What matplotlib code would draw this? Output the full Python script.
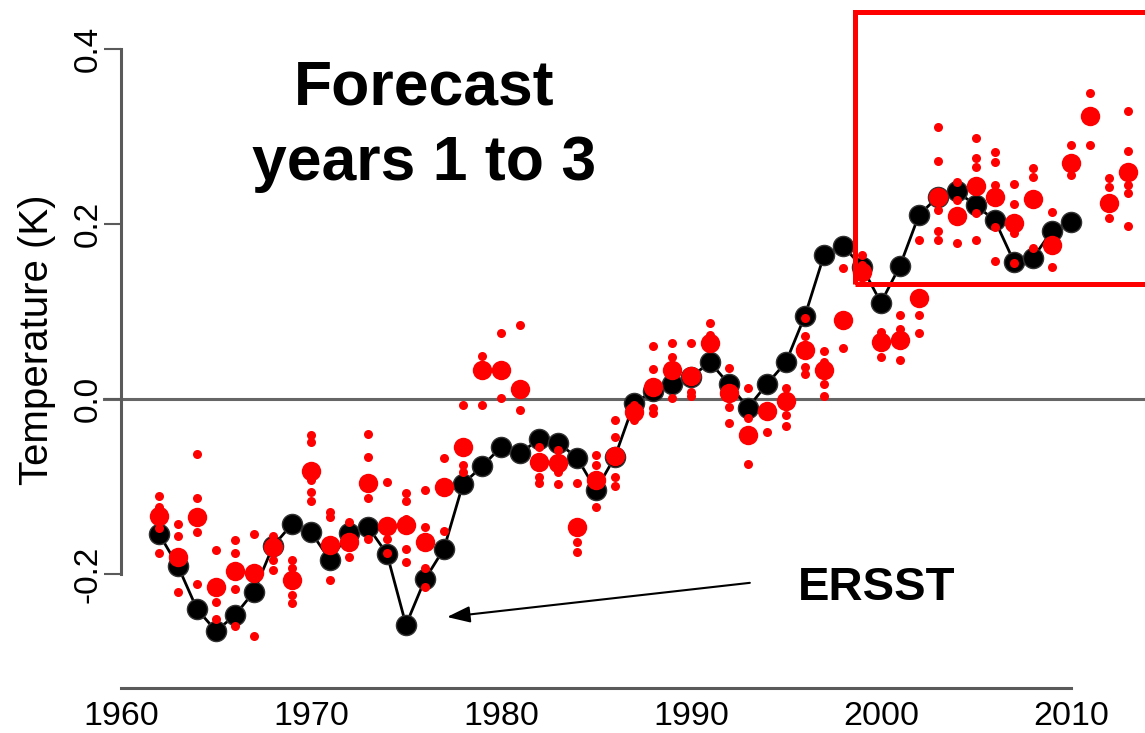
import matplotlib.pyplot as plt
from matplotlib.patches import Rectangle

plt.rcParams['font.family'] = ['Liberation Sans', 'DejaVu Sans']

# observed SST anomaly (ERSST), annual
obs_years = list(range(1962, 2011))
ersst = [-0.154, -0.191, -0.240, -0.265, -0.247, -0.220, -0.168, -0.143,
         -0.152, -0.184, -0.153, -0.146, -0.177, -0.258, -0.206, -0.171,
         -0.097, -0.077, -0.055, -0.062, -0.046, -0.050, -0.067, -0.104,
         -0.066, -0.005, 0.009, 0.017, 0.025, 0.042, 0.017, -0.010,
         0.017, 0.042, 0.095, 0.164, 0.175, 0.151, 0.110, 0.152,
         0.210, 0.231, 0.237, 0.221, 0.204, 0.157, 0.161, 0.192, 0.202]

# hindcast / forecast, mean of years 1 to 3
fc_years = list(range(1962, 2014))
fc_mean = [-0.134, -0.180, -0.135, -0.215, -0.196, -0.199, -0.169, -0.207,
           -0.082, -0.167, -0.163, -0.096, -0.145, -0.144, -0.163, -0.101,
           -0.055, 0.033, 0.033, 0.011, -0.072, -0.073, -0.146, -0.093,
           -0.065, -0.015, 0.014, 0.033, 0.026, 0.064, 0.007, -0.041,
           -0.014, -0.002, 0.056, 0.033, 0.090, 0.145, 0.065, 0.067,
           0.115, 0.231, 0.209, 0.243, 0.231, 0.201, 0.228, 0.176,
           0.270, 0.323, 0.224, 0.259]

# individual ensemble members
fc_members = [
    [-0.111, -0.123, -0.147, -0.176],
    [-0.143, -0.157, -0.220],
    [-0.063, -0.113, -0.152, -0.211],
    [-0.172, -0.232, -0.251],
    [-0.161, -0.176, -0.217, -0.259],
    [-0.154, -0.271],
    [-0.157, -0.184, -0.195],
    [-0.184, -0.193, -0.224, -0.233],
    [-0.041, -0.049, -0.093, -0.106, -0.117],
    [-0.129, -0.135, -0.207],
    [-0.141, -0.180],
    [-0.040, -0.066, -0.113, -0.160],
    [-0.095, -0.160, -0.176],
    [-0.107, -0.117, -0.137, -0.171, -0.186],
    [-0.104, -0.146, -0.193, -0.215],
    [-0.067, -0.151],
    [-0.007, -0.075, -0.083],
    [0.049, -0.007],
    [0.075, 0.001],
    [0.085, -0.013],
    [-0.055, -0.089, -0.096],
    [-0.058, -0.083, -0.097],
    [-0.096, -0.163, -0.175],
    [-0.064, -0.075, -0.123],
    [-0.024, -0.043, -0.089, -0.099],
    [-0.007, -0.024],
    [0.061, 0.034, -0.010, -0.016],
    [0.064, 0.048, 0.001],
    [0.064, 0.008, 0.003],
    [0.087, 0.073],
    [0.035, -0.009, -0.027],
    [0.013, -0.022, -0.074],
    [-0.038],
    [0.013, -0.018, -0.031],
    [0.093, 0.072, 0.037, 0.029],
    [0.055, 0.042, 0.017, 0.003],
    [0.150, 0.058],
    [0.164, 0.153],
    [0.077, 0.048],
    [0.096, 0.080, 0.045],
    [0.182, 0.096, 0.075],
    [0.311, 0.272, 0.216, 0.192, 0.182],
    [0.248, 0.227, 0.178],
    [0.298, 0.275, 0.265, 0.212, 0.182],
    [0.282, 0.271, 0.244, 0.196, 0.158],
    [0.245, 0.223, 0.190, 0.155],
    [0.264, 0.254, 0.172],
    [0.214, 0.151],
    [0.290, 0.256],
    [0.349, 0.290],
    [0.252, 0.242, 0.207],
    [0.329, 0.283, 0.244, 0.235, 0.198],
]

fig = plt.figure(figsize=(11.45, 7.33), dpi=100)
ax = fig.add_axes([0, 0, 1, 1])
ax.set_xlim(1953.63, 2013.9)
ax.set_ylim(-0.3815, 0.4557)

axis_grey = '#5a5a5a'
ax.axhline(0, xmin=0.0908, color='#666666', lw=2.2, zorder=1)

# observations
ax.plot(obs_years, ersst, '-', color='black', lw=2, zorder=2)
ax.plot(obs_years, ersst, 'o', color='black', mec='#333333', ms=14.5, zorder=3)

# forecast members and ensemble mean
mem_x = [yr for yr, m in zip(fc_years, fc_members) for _ in m]
mem_y = [v for m in fc_members for v in m]
ax.plot(mem_x, mem_y, 'o', color='red', mec='none', ms=6.5, zorder=4)
ax.plot(fc_years, fc_mean, 'o', color='red', mec='none', ms=14, zorder=5)

# highlight of the recent period
ax.add_patch(Rectangle((1998.63, 0.131), 20, 0.311, fill=False,
                       ec='red', lw=3.6, zorder=6))

for side in ['top', 'right']:
    ax.spines[side].set_visible(False)
ax.spines['left'].set_position(('data', 1960.0))
ax.spines['left'].set_bounds(-0.2, 0.4)
ax.spines['bottom'].set_position(('data', -0.330))
ax.spines['bottom'].set_bounds(1960, 2010)
for side in ['left', 'bottom']:
    ax.spines[side].set_color(axis_grey)
    ax.spines[side].set_linewidth(2.2)

ax.set_yticks([-0.2, 0.0, 0.2, 0.4])
ax.set_yticklabels(['-0.2', '0.0', '0.2', '0.4'])
ax.tick_params(axis='y', direction='out', length=12.2, width=1.5,
               color=axis_grey, labelsize=24, labelrotation=90, pad=0.5)
for lab in ax.get_yticklabels():
    lab.set_va('center')

ax.set_xticks([1960, 1970, 1980, 1990, 2000, 2010])
ax.tick_params(axis='x', length=0, labelsize=24.5, pad=9.2)

fig.text(37 / 1145, 1 - 340 / 733, 'Temperature (K)', rotation=90,
         ha='center', va='center', fontsize=29)

fig.text(424 / 1145, 1 - 126 / 733, 'Forecast\nyears 1 to 3',
         ha='center', va='center', fontsize=45, fontweight='bold',
         linespacing=1.35)

fig.text(877 / 1145, 1 - 583 / 733, 'ERSST', ha='center',
         va='center_baseline', fontsize=34, fontweight='bold')

ax.annotate('', xy=(1977.16, -0.249), xytext=(1993.1, -0.210),
            arrowprops=dict(arrowstyle='-|>,head_length=0.7,head_width=0.25',
                            color='black', lw=1.5, mutation_scale=20,
                            shrinkA=0, shrinkB=0))

fig.savefig('out.png', dpi=100)
